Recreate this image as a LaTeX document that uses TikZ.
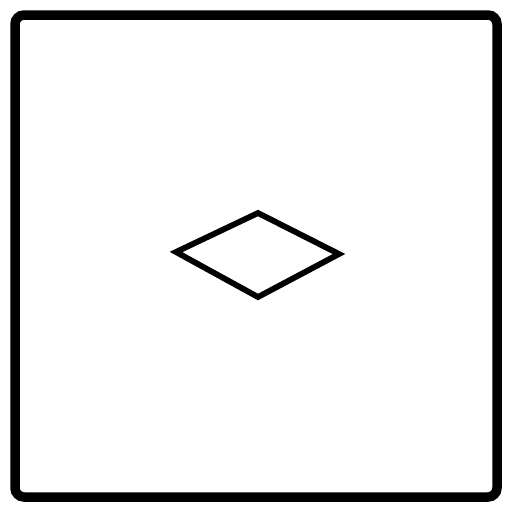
\documentclass[tikz,border=0pt]{standalone}
\begin{document}
\begin{tikzpicture}[x=1pt,y=-1pt,
  frame/.style={draw=black,line width=9.5pt,rounded corners=9pt},
  gem/.style={draw=black,line width=5.8pt,line join=miter}]
\useasboundingbox (0,0) rectangle (512,512);
\draw[frame] (15,15) rectangle (497,497);
\coordinate (l) at (176,252);
\coordinate (t) at (258,213);
\coordinate (r) at (339,254);
\coordinate (b) at (258,297);
\draw[gem] (l) -- (t) -- (r) -- (b) -- cycle;
\end{tikzpicture}
\end{document}
